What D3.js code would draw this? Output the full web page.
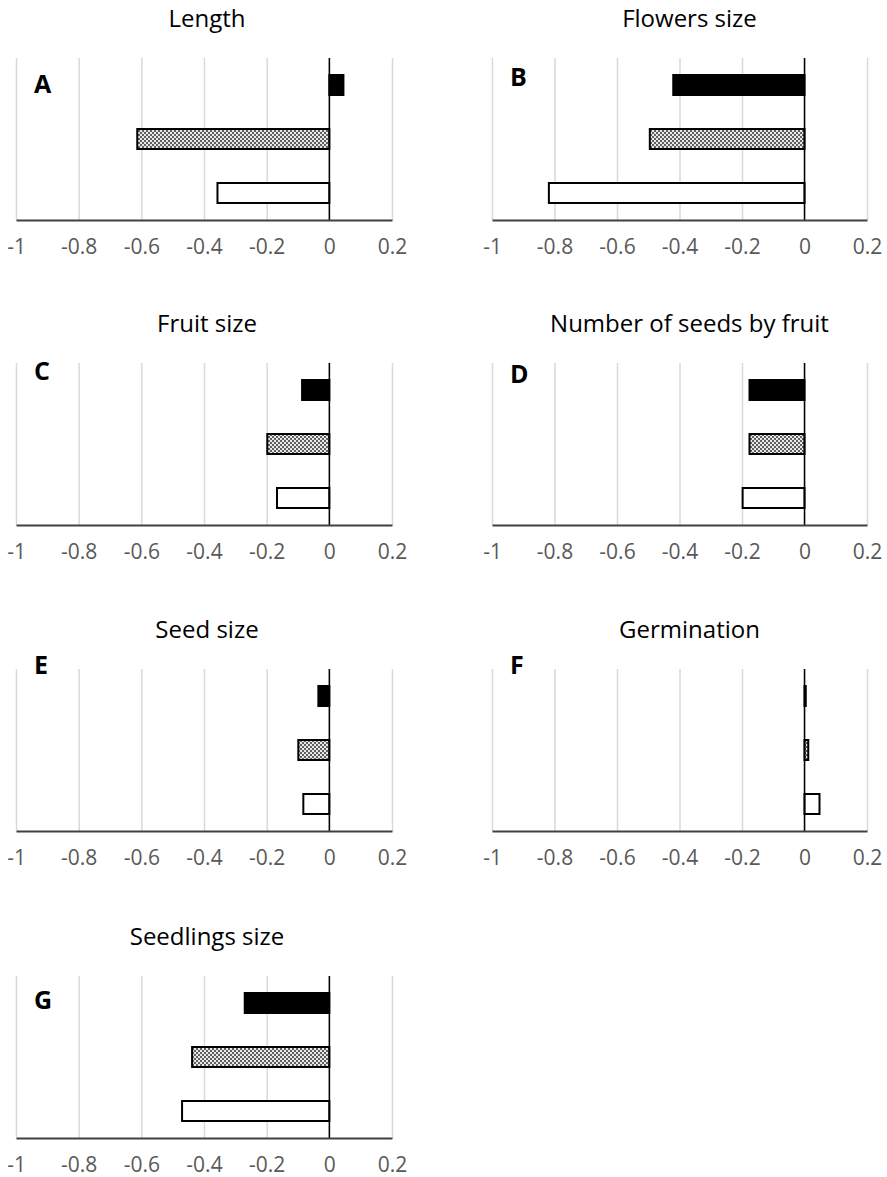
<!DOCTYPE html>
<html>
<head>
<meta charset="utf-8">
<script src="https://cdn.jsdelivr.net/npm/d3@7"></script>
<style>
  body { margin: 0; background: #fff; }
  text { font-family: "Open Sans", "DejaVu Sans", sans-serif; }
</style>
</head>
<body>
<div id="chart"></div>
<script>
// data
const panels = ['A', 'B', 'C', 'D', 'E', 'F', 'G'];
const titles = ['Length', 'Flowers size', 'Fruit size', 'Number of seeds by fruit',
                'Seed size', 'Germination', 'Seedlings size'];
const series = ['black', 'dotted', 'white'];   // bar order, top to bottom
const blackVals  = [0.045, -0.42, -0.087, -0.176, -0.035, 0.004, -0.27];
const dottedVals = [-0.613, -0.495, -0.198, -0.176, -0.099, 0.012, -0.438];
const whiteVals  = [-0.357, -0.818, -0.167, -0.198, -0.083, 0.048, -0.47];
const ticks = [-1, -0.8, -0.6, -0.4, -0.2, 0, 0.2];

// layout
const W = 887, H = 1177;
const cols = [[16, 392], [492, 867]];
const rowTop = [58, 363, 669, 976];
const plotH = 162;
const titleShift = [3, 10];
const letterDy = [26, 19, 8, 11, -4, -4, 24];

const svg = d3.select('#chart').append('svg').attr('width', W).attr('height', H);

const defs = svg.append('defs');
const pat = defs.append('pattern').attr('id', 'dots')
    .attr('patternUnits', 'userSpaceOnUse').attr('width', 4).attr('height', 4);
pat.append('rect').attr('width', 4).attr('height', 4).attr('fill', '#e8e8e8');
pat.append('rect').attr('width', 2).attr('height', 2).attr('fill', '#606060');
pat.append('rect').attr('x', 2).attr('y', 2).attr('width', 2).attr('height', 2).attr('fill', '#606060');

const fills = {black: '#000', dotted: 'url(#dots)', white: '#fff'};

panels.forEach((p, i) => {
    const col = i % 2, row = Math.floor(i / 2);
    const [x0, x1] = cols[col];
    const top = rowTop[row], bottom = top + plotH;

    const x = d3.scaleLinear().domain([-1, 0.2]).range([x0, x1]);
    const y = d3.scaleBand().domain(series).range([top, bottom])
        .paddingInner(0.63).paddingOuter(0.315);

    const g = svg.append('g');

    // gridlines
    g.append('g')
        .attr('transform', 'translate(0,' + bottom + ')')
        .call(d3.axisBottom(x).tickValues(ticks).tickSize(-plotH).tickFormat(''))
        .call(s => s.select('.domain').remove())
        .call(s => s.selectAll('line').attr('stroke', '#d9d9d9').attr('stroke-width', 1.5));

    const vals = [blackVals[i], dottedVals[i], whiteVals[i]];
    g.selectAll('rect.bar').data(series).enter().append('rect')
        .attr('class', 'bar')
        .attr('x', (d, k) => x(Math.min(0, vals[k])))
        .attr('width', (d, k) => Math.abs(x(vals[k]) - x(0)))
        .attr('y', d => y(d))
        .attr('height', y.bandwidth())
        .attr('fill', d => fills[d])
        .attr('stroke', '#000')
        .attr('stroke-width', 2);

    // zero line
    g.append('line')
        .attr('x1', x(0)).attr('x2', x(0))
        .attr('y1', top).attr('y2', bottom)
        .attr('stroke', '#000').attr('stroke-width', 1.5);

    // x axis
    g.append('g')
        .attr('transform', 'translate(0,' + bottom + ')')
        .call(d3.axisBottom(x).tickValues(ticks).tickSize(0).tickPadding(19)
            .tickFormat(d => String(+d.toFixed(1))))
        .call(s => s.select('.domain').attr('stroke', '#404040').attr('stroke-width', 2))
        .call(s => s.selectAll('text')
            .attr('fill', '#595959')
            .style('font-family', '"Open Sans", sans-serif')
            .style('font-size', '21px'));

    // title
    g.append('text')
        .attr('x', (x0 + x1) / 2 + titleShift[col])
        .attr('y', top - 31)
        .attr('text-anchor', 'middle')
        .attr('fill', '#000')
        .style('font-size', '24px')
        .text(titles[i]);

    // panel letter
    g.append('text')
        .attr('x', x0 + 18)
        .attr('y', top + letterDy[i] + 9)
        .attr('fill', '#000')
        .style('font-size', '25px')
        .style('font-weight', 'bold')
        .text(p);
});
</script>
</body>
</html>
